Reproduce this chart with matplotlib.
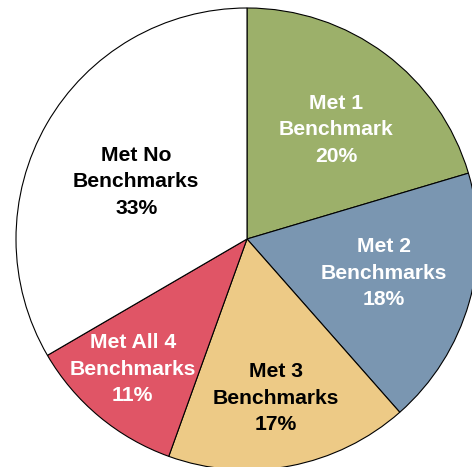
import numpy as np
from matplotlib import pyplot as plt

# slice shares (clockwise from 12 o'clock)
labels = ["Met 1\nBenchmark", "Met 2\nBenchmarks", "Met 3\nBenchmarks",
          "Met All 4\nBenchmarks", "Met No\nBenchmarks"]
shares = [20.4, 18.1, 17.0, 11.1, 33.4]
pct_text = ["20%", "18%", "17%", "11%", "33%"]
colors = ["#9cb06a", "#7a96b1", "#edca86", "#e05566", "#ffffff"]
text_colors = ["white", "white", "black", "white", "black"]
# label placement: fraction of radius and small angle nudge (deg)
label_r = [0.61, 0.61, 0.70, 0.75, 0.54]
label_da = [-2.5, 2.0, -0.5, -1.5, 2.5]

W, H = 472, 467
cx, cy, rad = 247, 239, 231  # pie centre / radius in pixels

fig = plt.figure(figsize=(W / 100, H / 100), dpi=100)
ax = fig.add_axes([0, 0, 1, 1])

wedges, _ = ax.pie(shares, colors=colors, startangle=90, counterclock=False,
                   radius=1.0, wedgeprops=dict(edgecolor="black", linewidth=0.8))

for w, lab, pct, tc, r, da in zip(wedges, labels, pct_text, text_colors,
                                  label_r, label_da):
    mid = np.deg2rad((w.theta1 + w.theta2) / 2 + da)
    ax.text(r * np.cos(mid), r * np.sin(mid), lab + "\n" + pct,
            ha="center", va="center", color=tc, fontsize=15.2,
            fontweight="bold", family="Liberation Sans", linespacing=1.5)

ax.set_xlim(-cx / rad, (W - cx) / rad)
ax.set_ylim(-(H - cy) / rad, cy / rad)
ax.set_aspect("auto")
ax.axis("off")

fig.savefig("out.png", dpi=100)
